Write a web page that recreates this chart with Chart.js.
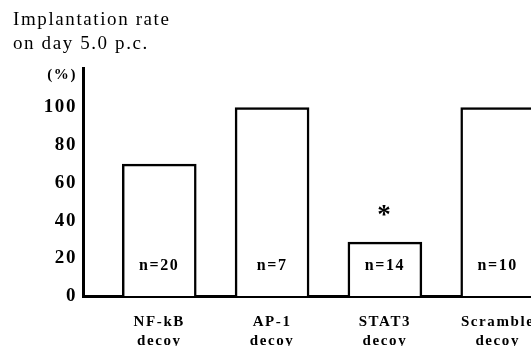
<!DOCTYPE html>
<html>
<head>
<meta charset="utf-8">
<script src="https://cdn.jsdelivr.net/npm/chart.js@4/dist/chart.umd.min.js"></script>
<style>
  body { margin: 0; background: #fff; }
  canvas { display: block; }
</style>
</head>
<body>
<canvas id="myChart" width="531" height="346"></canvas>
<script>
// data
var categories = ['NF-kB decoy', 'AP-1 decoy', 'STAT3 decoy', 'Scramble decoy'];
var tickLabels = [['NF-kB', 'decoy'], ['AP-1', 'decoy'], ['STAT3', 'decoy'], ['Scramble', 'decoy']];
var rates = [70, 100, 28.6, 100];
var counts = ['n=20', 'n=7', 'n=14', 'n=10'];
var marks = ['', '', '*', ''];
var yTicks = [0, 20, 40, 60, 80, 100];
var unitLabel = '(%)';

var serif = "'Liberation Serif', 'Times New Roman', serif";

// n= labels inside the bars and the asterisk above
var barText = {
    id: 'barText',
    beforeDraw: function(chart) {
        chart.ctx.letterSpacing = '1.6px';
    },
    afterDatasetsDraw: function(chart) {
        var ctx = chart.ctx;
        var x = chart.scales.x, y = chart.scales.y;
        ctx.save();
        ctx.fillStyle = '#000';
        ctx.textAlign = 'center';
        ctx.textBaseline = 'middle';
        categories.forEach(function(c, i) {
            var px = x.getPixelForValue(i + 1);
            ctx.font = 'bold 16px ' + serif;
            ctx.fillText(counts[i], px, y.getPixelForValue(16));
            if (marks[i]) {
                ctx.font = 'bold 27px ' + serif;
                ctx.fillText(marks[i], px, y.getPixelForValue(rates[i]) - 26);
            }
        });
        ctx.restore();
    }
};

var ctx = document.getElementById('myChart').getContext('2d');
var myChart = new Chart(ctx, {
    type: 'bar',
    data: {
        datasets: [{
            label: 'Implantation rate',
            data: categories.map(function(c, i) { return { x: i + 1, y: rates[i] }; }),
            backgroundColor: '#fff',
            borderColor: '#000',
            borderWidth: 2.5,
            barThickness: 74
        }]
    },
    options: {
        responsive: false,
        animation: false,
        layout: { padding: { left: 13, right: 0, top: 0, bottom: 0 } },
        plugins: {
            legend: { display: false },
            tooltip: { enabled: false },
            title: {
                display: true,
                text: ['Implantation rate', 'on day 5.0 p.c.'],
                align: 'start',
                color: '#000',
                font: { family: serif, size: 19, weight: 'normal', lineHeight: '24px' },
                padding: { top: 8, bottom: 12 }
            }
        },
        scales: {
            x: {
                type: 'linear',
                offset: false,
                min: 0.324,
                max: 4.295,
                grid: { display: false, drawTicks: false, offset: false },
                border: { display: true, color: '#000', width: 3 },
                afterBuildTicks: function(scale) {
                    scale.ticks = categories.map(function(c, i) { return { value: i + 1 }; });
                },
                afterFit: function(scale) {
                    scale.height = 50;
                    scale.paddingLeft = 0;
                    scale.paddingRight = 0;
                },
                ticks: {
                    color: '#000',
                    padding: 17,
                    maxRotation: 0,
                    autoSkip: false,
                    font: { family: serif, size: 15, weight: 'bold', lineHeight: '19px' },
                    callback: function(v, i) { return tickLabels[i]; }
                }
            },
            y: {
                min: 0,
                max: 121,
                grid: { display: false, drawTicks: false },
                border: { display: true, color: '#000', width: 3 },
                afterBuildTicks: function(scale) {
                    scale.ticks = yTicks.map(function(v) { return { value: v }; }).concat([{ value: 117 }]);
                },
                afterFit: function(scale) { scale.width = 70; },
                ticks: {
                    color: '#000',
                    padding: 6,
                    font: function(c) {
                        return c.tick && c.tick.value === 117
                            ? { family: serif, size: 15, weight: 'bold' }
                            : { family: serif, size: 19, weight: 'bold' };
                    },
                    callback: function(v) { return v === 117 ? unitLabel : v; }
                }
            }
        }
    },
    plugins: [barText]
});
</script>
</body>
</html>
